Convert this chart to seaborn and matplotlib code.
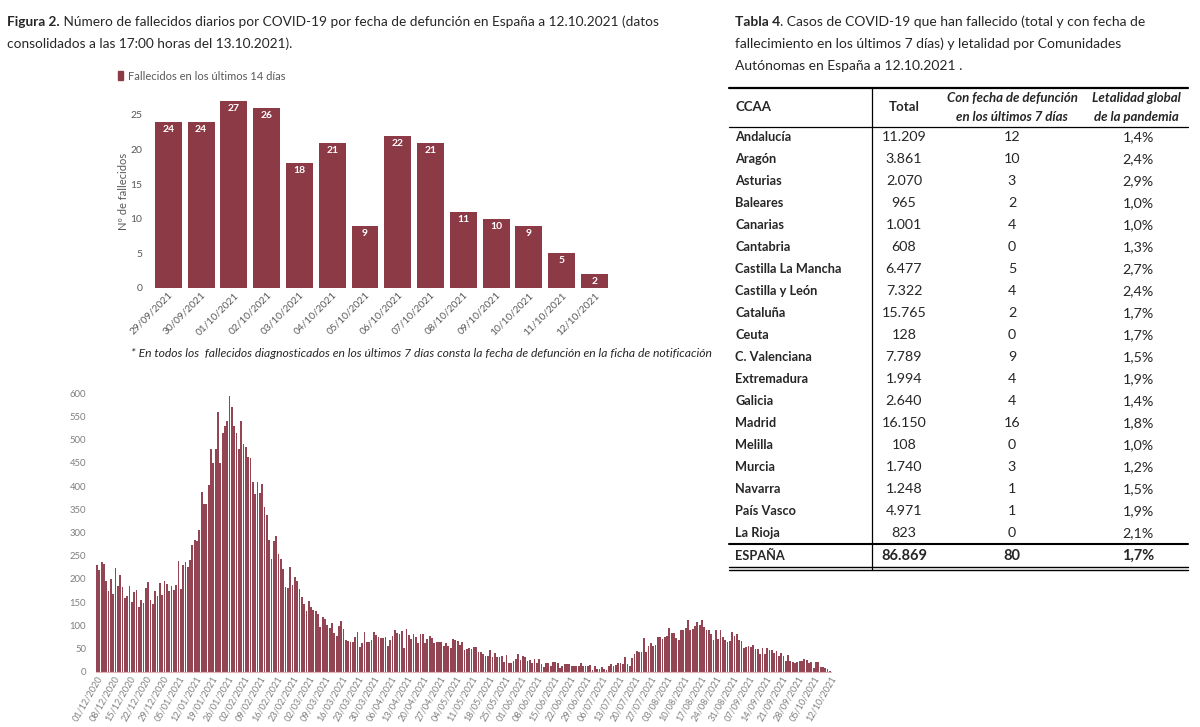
import matplotlib
matplotlib.use('Agg')
import matplotlib.pyplot as plt
from matplotlib.patches import Patch
import pandas as pd
import seaborn as sns

# Figura 2 (top): deaths on each of the last 14 days
last14_dates = ['29/09/2021', '30/09/2021', '01/10/2021', '02/10/2021', '03/10/2021',
                '04/10/2021', '05/10/2021', '06/10/2021', '07/10/2021', '08/10/2021',
                '09/10/2021', '10/10/2021', '11/10/2021', '12/10/2021']
last14_deaths = [24, 24, 27, 26, 18, 21, 9, 22, 21, 11, 10, 9, 5, 2]

# Figura 2 (bottom): daily deaths by date of death, 01/12/2020 - 12/10/2021
daily_start = '2020-12-01'
daily_end = '2021-10-12'
daily_deaths = [
    230, 220, 237, 232, 195, 173, 200, 168, 224, 185,
    208, 182, 160, 163, 185, 150, 172, 177, 140, 155,
    148, 180, 193, 155, 146, 173, 163, 192, 165, 196,
    190, 173, 185, 176, 186, 238, 178, 229, 237, 226,
    240, 274, 285, 282, 306, 387, 362, 362, 402, 480,
    450, 480, 560, 450, 515, 530, 540, 595, 570, 530,
    515, 480, 540, 490, 485, 462, 460, 408, 383, 408,
    385, 404, 355, 338, 285, 242, 282, 293, 253, 243,
    222, 183, 180, 225, 188, 205, 195, 178, 162, 147,
    131, 152, 140, 134, 130, 125, 97, 117, 113, 100,
    95, 106, 84, 77, 98, 110, 93, 68, 66, 64,
    64, 75, 86, 53, 63, 85, 64, 65, 68, 85,
    80, 74, 72, 72, 74, 56, 68, 78, 91, 84,
    82, 88, 52, 93, 80,
    70, 81, 75, 63, 82, 81, 63, 70, 78, 73,
    62, 64, 64, 64, 56, 62, 56, 51, 70, 68,
    67, 58, 65, 46, 49, 51, 49, 53, 53, 42,
    42, 39, 35, 35, 46, 31, 40, 31, 31, 35,
    22, 36, 19, 20, 24, 28, 38, 26, 35, 31,
    24, 26, 19, 27, 20, 27, 17, 10, 20, 19,
    13, 22, 22, 19, 8, 13, 17, 17, 17, 13,
    13, 13, 13, 20, 13, 13, 12, 14, 4, 13,
    7, 7, 10, 6, 4, 12, 17, 13, 15, 19,
    19, 17, 32, 17, 13, 29, 39, 45, 42, 42,
    73, 42, 55, 62, 56, 58, 76, 75, 70, 76,
    78, 94, 83, 83, 73, 69, 91, 89, 94, 111,
    91, 92, 98, 107, 101, 111, 96, 89, 89, 82,
    68, 89, 70, 91, 75, 69, 64, 67, 85, 78,
    82, 68, 67, 51, 53, 55, 53, 58, 49, 49,
    38, 51, 38, 51, 47, 46, 40, 44, 35, 40,
    35, 24, 37, 24, 22, 20, 22,
    24, 24, 27, 26, 18, 21, 9, 22, 21, 11, 10, 9, 5, 2,
]

# Tabla 4
ccaa = ['Andalucía', 'Aragón', 'Asturias', 'Baleares', 'Canarias', 'Cantabria',
        'Castilla La Mancha', 'Castilla y León', 'Cataluña', 'Ceuta', 'C. Valenciana',
        'Extremadura', 'Galicia', 'Madrid', 'Melilla', 'Murcia', 'Navarra',
        'País Vasco', 'La Rioja']
total_deaths = [11209, 3861, 2070, 965, 1001, 608, 6477, 7322, 15765, 128, 7789,
                1994, 2640, 16150, 108, 1740, 1248, 4971, 823]
deaths_last7 = [12, 10, 3, 2, 4, 0, 5, 4, 2, 0, 9, 4, 4, 16, 0, 3, 1, 1, 0]
lethality = [1.4, 2.4, 2.9, 1.0, 1.0, 1.3, 2.7, 2.4, 1.7, 1.7, 1.5, 1.9, 1.4, 1.8,
             1.0, 1.2, 1.5, 1.9, 2.1]
spain_total = 86869
spain_last7 = 80
spain_lethality = 1.7

BAR = '#8B3A46'
GREY = '#595959'
W, H = 1200, 727

sns.set_theme(style='white')
plt.rcParams['font.family'] = ['Lato', 'DejaVu Sans']

fig = plt.figure(figsize=(12, 7.27), dpi=100)


def es_int(v):
    return f'{v:,}'.replace(',', '.')


def es_pct(v):
    return f'{v:.1f}%'.replace('.', ',')


def mixed_line(x, y, bold, rest, size):
    t = fig.text(x / W, 1 - y / H, bold, fontweight='bold', fontsize=size, va='center')
    bb = t.get_window_extent(renderer=fig.canvas.get_renderer())
    fig.text(bb.x1 / W, 1 - y / H, rest, fontsize=size, va='center')


# captions
mixed_line(7, 22, 'Figura 2.', ' Número de fallecidos diarios por COVID-19 por fecha de defunción '
           'en España a 12.10.2021 (datos', 9.8)
fig.text(7 / W, 1 - 44 / H, 'consolidados a las 17:00 horas del 13.10.2021).', fontsize=9.8, va='center')

mixed_line(735, 22, 'Tabla 4', '. Casos de COVID-19 que han fallecido (total y con fecha de', 10)
fig.text(735 / W, 1 - 44 / H, 'fallecimiento en los últimos 7 días) y letalidad por Comunidades',
         fontsize=10, va='center')
fig.text(735 / W, 1 - 66 / H, 'Autónomas en España a 12.10.2021 .', fontsize=10, va='center')

# top chart: last 14 days
ax1 = fig.add_axes([152 / W, 1 - 287.7 / H, 458.8 / W, 28 * 6.908 / H])
sns.barplot(x=last14_dates, y=last14_deaths, color=BAR, width=0.82, saturation=1,
            linewidth=0, ax=ax1)
for i, v in enumerate(last14_deaths):
    ax1.text(i, v - 0.45, str(v), ha='center', va='top', color='white',
             fontsize=7.5, fontweight='bold')
ax1.set_ylim(0, 28)
ax1.set_yticks(range(0, 26, 5))
ax1.set_ylabel('Nº de fallecidos', fontsize=8, color=GREY)
ax1.yaxis.set_label_coords(-0.05, 0.5)
ax1.set_xlabel('')
ax1.tick_params(axis='y', length=0, pad=7, labelsize=7.5, labelcolor=GREY)
ax1.tick_params(axis='x', length=0, pad=2, labelsize=7.3, labelcolor=GREY)
plt.setp(ax1.get_xticklabels(), rotation=45, ha='right', rotation_mode='anchor')
sns.despine(ax=ax1, left=True, bottom=True)
fig.legend(handles=[Patch(color=BAR)], labels=['Fallecidos en los últimos 14 días'],
           loc='center left', bbox_to_anchor=(112 / W, 1 - 76 / H), frameon=False,
           fontsize=8, handlelength=0.5, handleheight=0.9, handletextpad=0.4,
           labelcolor=GREY, borderpad=0)

fig.text(131 / W, 1 - 354 / H,
         '* En todos los  fallecidos diagnosticados en los últimos 7 días consta la fecha '
         'de defunción en la ficha de notificación',
         style='italic', fontsize=8.7, va='center')

# bottom chart: daily deaths
dates = pd.date_range(daily_start, daily_end, freq='D')
daily_labels = dates.strftime('%d/%m/%Y')
ax2 = fig.add_axes([95.8 / W, 1 - 671.8 / H, 735.3 / W, 610 * 0.4642 / H])
ax2.set_facecolor('none')
sns.barplot(x=list(daily_labels), y=daily_deaths, color='#944553', width=0.76,
            saturation=1, linewidth=0, ax=ax2)
ax2.set_ylim(0, 610)
ax2.set_yticks(range(0, 601, 50))
ax2.set_xticks(range(0, len(dates), 7))
ax2.set_xticklabels(daily_labels[::7])
ax2.set_xlabel('')
ax2.tick_params(axis='y', length=0, pad=7, labelsize=6.8, labelcolor='#7f7f7f')
ax2.tick_params(axis='x', length=0, pad=2, labelsize=6.6, labelcolor='#7f7f7f')
plt.setp(ax2.get_xticklabels(), rotation=60, ha='right', rotation_mode='anchor')
sns.despine(ax=ax2, left=True)
ax2.spines['bottom'].set_color('#e3b3ba')
ax2.spines['bottom'].set_linewidth(0.8)

# table (drawn on top in pixel coordinates)
axt = fig.add_axes([0, 0, 1, 1], zorder=5)
axt.set_xlim(0, W)
axt.set_ylim(H, 0)
axt.axis('off')

x0, x1 = 729, 1188
c_name, c_total, c_last7, c_leth = 735, 904, 1012, 1138
axt.plot([x0, x1], [88, 88], color='black', lw=1.6)
axt.plot([x0, x1], [127, 127], color='black', lw=0.9)
axt.plot([x0, x1], [543.5, 543.5], color='black', lw=1.5)
axt.plot([x0, x1], [566.5, 566.5], color='black', lw=1.0)
axt.plot([x0, x1], [569.5, 569.5], color='black', lw=1.0)
axt.plot([872, 872], [88, 569.5], color='black', lw=0.9)

hdr = dict(fontweight='bold', fontsize=9.5, va='center')
axt.text(c_name, 107, 'CCAA', **hdr)
axt.text(c_total, 107, 'Total', ha='center', **hdr)
axt.text(c_last7, 98, 'Con fecha de defunción', style='italic', ha='center', **hdr)
axt.text(c_last7, 117, 'en los últimos 7 días', style='italic', ha='center', **hdr)
axt.text(1136, 98, 'Letalidad global', style='italic', ha='center', **hdr)
axt.text(1136, 117, 'de la pandemia', style='italic', ha='center', **hdr)

for i, name in enumerate(ccaa):
    y = 137.3 + 22.0 * i
    axt.text(c_name, y, name, fontweight='bold', fontsize=9.2, va='center')
    axt.text(c_total, y, es_int(total_deaths[i]), fontsize=10.3, va='center', ha='center')
    axt.text(c_last7, y, str(deaths_last7[i]), fontsize=10.3, va='center', ha='center')
    axt.text(c_leth, y, es_pct(lethality[i]), fontsize=10.3, va='center', ha='center')

y = 556
axt.text(c_name, y, 'ESPAÑA', fontweight='bold', fontsize=9.2, va='center')
axt.text(c_total, y, es_int(spain_total), fontweight='bold', fontsize=10.5, va='center', ha='center')
axt.text(c_last7, y, str(spain_last7), fontweight='bold', fontsize=10.5, va='center', ha='center')
axt.text(c_leth, y, es_pct(spain_lethality), fontweight='bold', fontsize=10.5, va='center', ha='center')

fig.savefig('out.png', dpi=100)
